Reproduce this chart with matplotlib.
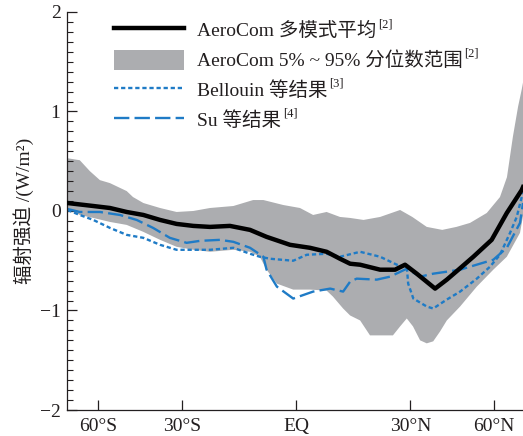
import numpy as np
import matplotlib
matplotlib.use('Agg')
import matplotlib.pyplot as plt
from matplotlib.ticker import MultipleLocator, FixedLocator

plt.rcParams['font.family'] = ['Liberation Serif', 'Noto Sans CJK SC']

# AeroCom multi-model mean
mean_lat = [-90, -62.5, -54.5, -47.8, -41.9, -36.5, -31.5, -26.7, -22.1, -16.8, -11.6, -7.4, -1.5, 3.5,
            7.7, 11.1, 13.7, 16.3, 21.6, 25.7, 28.5, 31.9, 37.5, 41.3, 45.3, 50.9, 58.9, 67.3, 81.0, 83.4]
mean_val = [0.08, 0.05, 0.03, -0.01, -0.04, -0.09, -0.13, -0.15, -0.16, -0.15, -0.19, -0.26, -0.34, -0.37,
            -0.41, -0.48, -0.53, -0.54, -0.59, -0.59, -0.54, -0.63, -0.78, -0.69, -0.59, -0.46, -0.29, -0.02, 0.21, 0.24]

# AeroCom 5%-95% range
up_lat = [-90, -71.1, -64.4, -59.1, -54.5, -47.8, -45.5, -41.9, -36.5, -31.5, -26.7, -22.1, -15.9, -10.8,
          -8.2, -3.2, 1.0, 4.3, 7.7, 11.1, 13.7, 17.2, 21.6, 27.1, 30.6, 34.9, 39.8, 44.6, 49.6, 56.6,
          63.2, 67.4, 71.7, 76.4, 81.0, 83.4]
up_val = [0.53, 0.51, 0.40, 0.31, 0.28, 0.20, 0.14, 0.08, 0.03, -0.01, 0.0, 0.03, 0.05, 0.11,
          0.11, 0.06, 0.03, -0.04, -0.01, -0.06, -0.07, -0.09, -0.06, 0.01, -0.06, -0.16, -0.19, -0.16, -0.12, -0.02,
          0.14, 0.34, 0.75, 1.05, 1.22, 1.29]
lo_lat = [-90, -71.1, -62.5, -54.5, -47.8, -41.9, -36.5, -31.5, -26.7, -22.1, -15.9, -11.6, -9.1, -7.4,
          -4.8, -0.7, 3.5, 7.7, 9.3, 11.9, 13.7, 16.3, 18.9, 25.1, 27.1, 29.0, 30.8, 32.9, 34.9, 36.9,
          39.1, 41.3, 45.9, 52.3, 59.7, 67.3, 78.6, 83.4]
lo_val = [0.03, -0.04, -0.07, -0.11, -0.14, -0.21, -0.29, -0.36, -0.39, -0.41, -0.39, -0.41, -0.46, -0.59,
          -0.73, -0.79, -0.79, -0.80, -0.86, -0.98, -1.05, -1.10, -1.25, -1.25, -1.16, -1.08, -1.16, -1.30, -1.33, -1.31,
          -1.21, -1.10, -0.96, -0.76, -0.59, -0.46, -0.22, -0.05]

# Bellouin et al.
bel_lat = [-90, -71.1, -62.5, -54.5, -47.8, -41.9, -36.5, -31.5, -26.7, -22.1, -15.9, -11.6, -9.1, -6.5,
           -0.7, 2.7, 7.7, 11.1, 16.3, 21.6, 26.2, 29.0, 29.4, 30.9, 34.9, 36.9, 41.3, 45.9, 52.3, 58.1,
           63.2, 69.5, 75.0, 81.0, 83.4]
bel_val = [0.01, -0.04, -0.09, -0.17, -0.24, -0.27, -0.34, -0.39, -0.39, -0.39, -0.37, -0.43, -0.46, -0.48,
           -0.50, -0.44, -0.43, -0.46, -0.41, -0.46, -0.54, -0.56, -0.73, -0.88, -0.96, -0.98, -0.89, -0.81, -0.68, -0.56,
           -0.44, -0.22, -0.06, 0.14, 0.18]

# Su et al.
su_lat = [-90, -71.1, -59.1, -50.4, -44.2, -38.7, -33.5, -28.6, -24.8, -19.4, -15.9, -11.6, -8.2, -7.4,
          -4.8, -0.7, 4.3, 8.6, 11.9, 13.7, 15.4, 20.7, 24.3, 29.0, 32.9, 36.9, 41.3, 45.9, 53.6, 59.7,
          67.3, 78.6, 83.4]
su_val = [0.02, -0.01, -0.01, -0.04, -0.09, -0.17, -0.27, -0.32, -0.30, -0.29, -0.31, -0.37, -0.46, -0.59,
          -0.76, -0.88, -0.81, -0.78, -0.81, -0.71, -0.68, -0.69, -0.66, -0.58, -0.66, -0.63, -0.61, -0.59, -0.53, -0.49,
          -0.37, -0.12, 0.08]

xticks = [-60, -30, 0, 30, 60]
xticklabels = ['60°S', '30°S', 'EQ', '30°N', '60°N']
yticks = [-2, -1, 0, 1, 2]
yticklabels = ['−2', '−1', '0', '1', '2']

labels = ['AeroCom 多模式平均', 'AeroCom 5% ~ 95% 分位数范围', 'Bellouin 等结果', 'Su 等结果']
refs = ['[2]', '[2]', '[3]', '[4]']

blue = '#1f7bc6'
gray = '#acadb0'
ink = '#231f20'

fig = plt.figure(figsize=(5.23, 4.36), dpi=100)
ax = fig.add_axes([0.129, 0.0596, 0.871, 0.913])
ax.set_xscale('function', functions=(lambda x: np.sin(np.radians(x)),
                                     lambda y: np.degrees(np.arcsin(np.clip(y, -1, 1)))))

band = ax.fill(np.concatenate([up_lat, lo_lat[::-1]]), np.concatenate([up_val, lo_val[::-1]]),
               color=gray, lw=0, zorder=1)[0]
l_mean, = ax.plot(mean_lat, mean_val, color='black', lw=3.2, zorder=3)
l_bel, = ax.plot(bel_lat, bel_val, color=blue, lw=1.7, ls=(0, (1.8, 1.2)), zorder=2)
l_su, = ax.plot(su_lat, su_val, color=blue, lw=1.7, ls=(0, (6.5, 2.2)), zorder=2)

ax.set_xlim(-90, 83.4)
ax.set_ylim(-2, 2)
ax.xaxis.set_major_locator(FixedLocator(xticks))
ax.set_xticklabels(xticklabels)
ax.set_yticks(yticks)
ax.set_yticklabels(yticklabels)
ax.yaxis.set_minor_locator(MultipleLocator(0.1))

ax.tick_params(axis='both', which='major', direction='in', length=7, width=0.9, colors=ink,
               labelsize=14, labelcolor=ink)
ax.tick_params(axis='y', which='minor', direction='in', length=4, width=0.8, colors=ink)
ax.tick_params(axis='x', which='major', pad=6)
ax.tick_params(axis='y', which='major', pad=5)
for s in ['top', 'right']:
    ax.spines[s].set_visible(False)
for s in ['left', 'bottom']:
    ax.spines[s].set_color(ink)
    ax.spines[s].set_linewidth(0.9)

ax.set_ylabel('辐射强迫 /(W/m²)', fontsize=14, color=ink, labelpad=4)

leg = ax.legend([l_mean, band, l_bel, l_su], labels, loc='upper left',
                bbox_to_anchor=(0.085, 1.0), frameon=False, fontsize=14,
                handlelength=3.6, handleheight=1.2, handletextpad=0.65, labelspacing=0.48,
                borderaxespad=0.0)
for t in leg.get_texts():
    t.set_color(ink)

# superscript reference marks after each legend entry
fig.canvas.draw()
for t, r in zip(leg.get_texts(), refs):
    ax.annotate(r, xy=(1, 1), xycoords=t, xytext=(1.5, 2.5), textcoords='offset points',
                fontsize=9, color=ink, ha='left', va='top', zorder=10)

fig.savefig('out.png', dpi=100)
